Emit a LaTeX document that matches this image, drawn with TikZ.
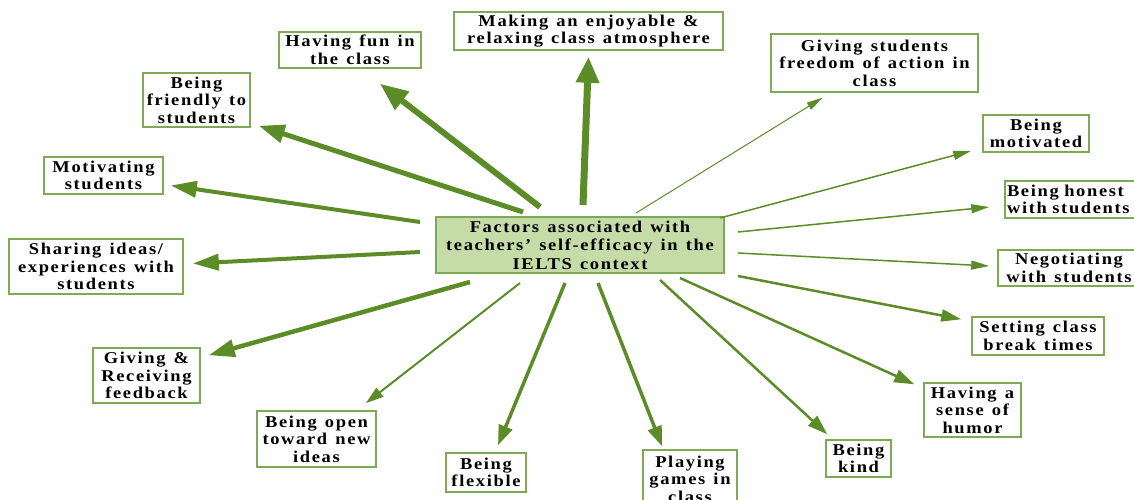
\documentclass[tikz,border=0pt]{standalone}
\usepackage{fontspec}
\setmainfont[LetterSpace=10,WordSpace={1.3},FakeStretch=1.12]{Liberation Serif}
\usetikzlibrary{arrows.meta,calc}
\definecolor{arrgreen}{RGB}{92,140,40}
\definecolor{boxgreen}{RGB}{125,170,85}
\definecolor{cfill}{RGB}{198,220,168}
\tikzset{
  box/.style={draw=boxgreen,line width=1.5pt,fill=white,align=center,inner sep=1pt,
    font=\fontsize{16.5}{17.5}\selectfont\bfseries,text=black},
  arr/.style={draw=arrgreen,line width=#1},
  hd/.style 2 args={-{Triangle[length=#1,width=#2]}}
}
\begin{document}
\begin{tikzpicture}[x=1pt,y=-1pt]
\useasboundingbox (0,0) rectangle (1134,499);
\clip (0,0) rectangle (1134,499);
\node[box,fill=cfill,minimum width=288,minimum height=56,font=\fontsize{16.5}{18.5}\selectfont\bfseries] (c) at (580,245) {Factors associated with\\teachers’ self-efficacy in the\\IELTS context};
\node[box,minimum width=269,minimum height=38] (mk) at (588.5,31) {Making an enjoyable \&\\relaxing class atmosphere};
\node[box,minimum width=142,minimum height=36] (fun) at (350,50) {Having fun in\\the class};
\node[box,minimum width=107,minimum height=54] (fr) at (196.5,100) {Being\\friendly to\\students};
\node[box,minimum width=119,minimum height=37] (mot) at (103.5,175.5) {Motivating\\students};
\node[box,minimum width=174,minimum height=55] (sh) at (96,266.5) {Sharing ideas/\\experiences with\\students};
\node[box,minimum width=107,minimum height=55] (fb) at (146.5,375.5) {Giving \&\\Receiving\\feedback};
\node[box,minimum width=119,minimum height=56] (op) at (316.5,439) {Being open\\toward new\\ideas};
\node[box,minimum width=80,minimum height=39] (fl) at (486,472.5) {Being\\flexible};
\node[box,minimum width=94,minimum height=58] (pl) at (690,479) {Playing\\games in\\class};
\node[box,minimum width=65,minimum height=37] (ki) at (858.5,458.5) {Being\\kind};
\node[box,minimum width=97,minimum height=54] (hu) at (972.5,410) {Having a\\sense of\\humor};
\node[box,minimum width=132,minimum height=38] (se) at (1038,336) {Setting class\\break times};
\node[box,minimum width=142,minimum height=36] (ne) at (1069,268) {Negotiating\\with students};
\node[box,minimum width=148,minimum height=37,text width=144,align=left] (ho) at (1079,199.5) {Being honest\\with students};
\node[box,minimum width=106,minimum height=37] (mv) at (1036,133.5) {Being\\motivated};
\node[box,minimum width=207,minimum height=58] (gf) at (874.5,63) {Giving students\\freedom of action in\\class};
% arrows
\draw[arr=7,hd={26}{22}] ($(c)+(3,-40)$) -- ($(mk.south)+(0,6)$);
\draw[arr=6,hd={28}{22}] ($(c)+(-40,-38)$) -- ($(fun.south)+(30,15)$);
\draw[arr=5,hd={26}{18}] ($(c)+(-57,-33)$) -- ($(fr.south east)+(8,-2)$);
\draw[arr=4,hd={26}{16}] ($(c)+(-160,-23)$) -- ($(mot.east)+(7,10)$);
\draw[arr=4,hd={26}{16}] ($(c)+(-160,7)$) -- ($(sh.east)+(9,-3)$);
\draw[arr=4.5,hd={26}{17}] ($(c)+(-110,37)$) -- ($(fb.north east)+(8,8)$);
\draw[arr=2,hd={18}{11}] ($(c)+(-60,38)$) -- ($(op.north east)+(-11,-7)$);
\draw[arr=3.5,hd={20}{14}] ($(c)+(-15,38)$) -- ($(fl.north)+(12,-7)$);
\draw[arr=3.5,hd={20}{14}] ($(c)+(18,38)$) -- ($(pl.north)+(-28,-3)$);
\draw[arr=2.5,hd={20}{13}] ($(c)+(80,35)$) -- ($(ki.north west)+(2,-5)$);
\draw[arr=2.5,hd={20}{13}] ($(c)+(100,33)$) -- ($(hu.north west)+(-9,2)$);
\draw[arr=2.5,hd={20}{12}] ($(c)+(158,31)$) -- ($(se.north west)+(-10,3)$);
\draw[arr=1.5,hd={18}{9}] ($(c)+(158,8)$) -- ($(ne.west)+(-8,-2)$);
\draw[arr=1.5,hd={18}{9}] ($(c)+(158,-13)$) -- ($(ho.west)+(-15,7.5)$);
\draw[arr=1.5,hd={18}{9}] ($(c)+(140,-27)$) -- ($(mv.south west)+(-11,-2)$);
\draw[arr=1,hd={16}{8}] ($(c)+(56,-32)$) -- ($(gf.south)+(-52,5)$);
\end{tikzpicture}
\end{document}
